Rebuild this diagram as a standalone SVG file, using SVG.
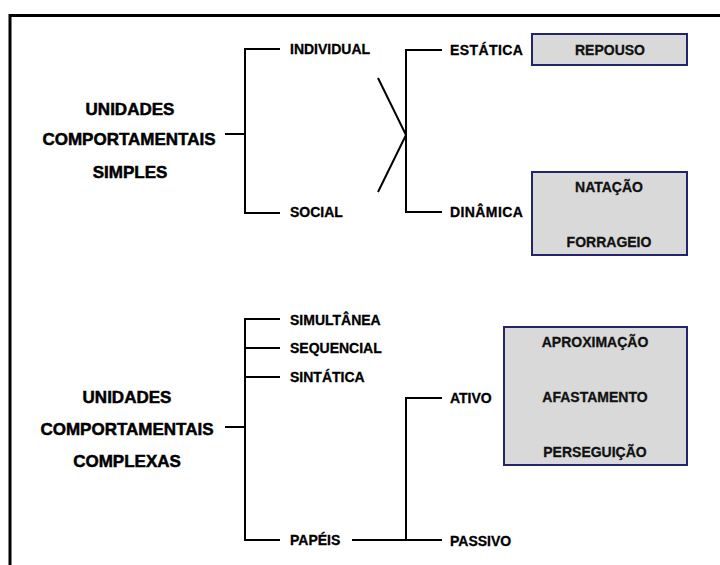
<svg xmlns="http://www.w3.org/2000/svg" width="720" height="565" viewBox="0 0 720 565">
<style>
.big{font-family:"Liberation Sans",Arial,sans-serif;font-weight:bold;font-size:17px;fill:#000;stroke:#000;stroke-width:0.5;text-anchor:middle}
.lbl{font-family:"Liberation Sans",Arial,sans-serif;font-weight:bold;font-size:14px;fill:#000;stroke:#000;stroke-width:0.3}
.box{fill:#d9d9d9;stroke:#23236e;stroke-width:2}
.bt{font-family:"Liberation Sans",Arial,sans-serif;font-weight:bold;font-size:14px;fill:#111;stroke:#111;stroke-width:0.3;text-anchor:middle}
.ln{fill:none;stroke:#000;stroke-width:2}
</style>
<rect width="720" height="565" fill="#fff"/>
<path d="M10,565 V15.5 H720" fill="none" stroke="#000" stroke-width="3"/>
<g id="connectors">
<path class="ln" d="M225,134 H245 M280,49 H245 V213 H280"/>
<path class="ln" d="M378,78 L406,135 L378,192"/>
<path class="ln" d="M442,50 H406 V212 H442"/>
<path class="ln" d="M225,427 H245 M280,319 H245 V540 H280 M245,348 H280 M245,377 H280"/>
<path class="ln" d="M352,540 H442 M406,540 V398 H442"/>
</g>
<g id="simples">
<text class="big" x="130" y="115">UNIDADES</text>
<text class="big" x="129" y="145">COMPORTAMENTAIS</text>
<text class="big" x="130" y="178">SIMPLES</text>
</g>
<g id="individual"><text class="lbl" x="290" y="54">INDIVIDUAL</text></g>
<g id="social"><text class="lbl" x="290" y="217">SOCIAL</text></g>
<g id="estatica"><text class="lbl" x="450" y="55" letter-spacing="0.4">ESTÁTICA</text></g>
<g id="dinamica"><text class="lbl" x="450" y="217" letter-spacing="0.4">DINÂMICA</text></g>
<g id="repouso">
<rect class="box" x="532" y="34" width="155" height="31"/>
<text class="bt" x="610" y="55">REPOUSO</text>
</g>
<g id="natacao">
<rect class="box" x="532" y="172" width="155" height="83"/>
<text class="bt" x="609" y="192">NATAÇÃO</text>
<text class="bt" x="609" y="247">FORRAGEIO</text>
</g>
<g id="complexas">
<text class="big" x="127" y="403">UNIDADES</text>
<text class="big" x="127" y="435">COMPORTAMENTAIS</text>
<text class="big" x="127" y="467">COMPLEXAS</text>
</g>
<g id="simultanea"><text class="lbl" x="290" y="325">SIMULTÂNEA</text></g>
<g id="sequencial"><text class="lbl" x="290" y="353">SEQUENCIAL</text></g>
<g id="sintatica"><text class="lbl" x="290" y="382">SINTÁTICA</text></g>
<g id="papeis"><text class="lbl" x="290" y="545">PAPÉIS</text></g>
<g id="ativo"><text class="lbl" x="450" y="403">ATIVO</text></g>
<g id="passivo"><text class="lbl" x="450" y="546">PASSIVO</text></g>
<g id="acoes">
<rect class="box" x="504" y="327" width="183" height="138"/>
<text class="bt" x="595" y="347">APROXIMAÇÃO</text>
<text class="bt" x="595" y="402">AFASTAMENTO</text>
<text class="bt" x="595" y="457">PERSEGUIÇÃO</text>
</g>
</svg>
